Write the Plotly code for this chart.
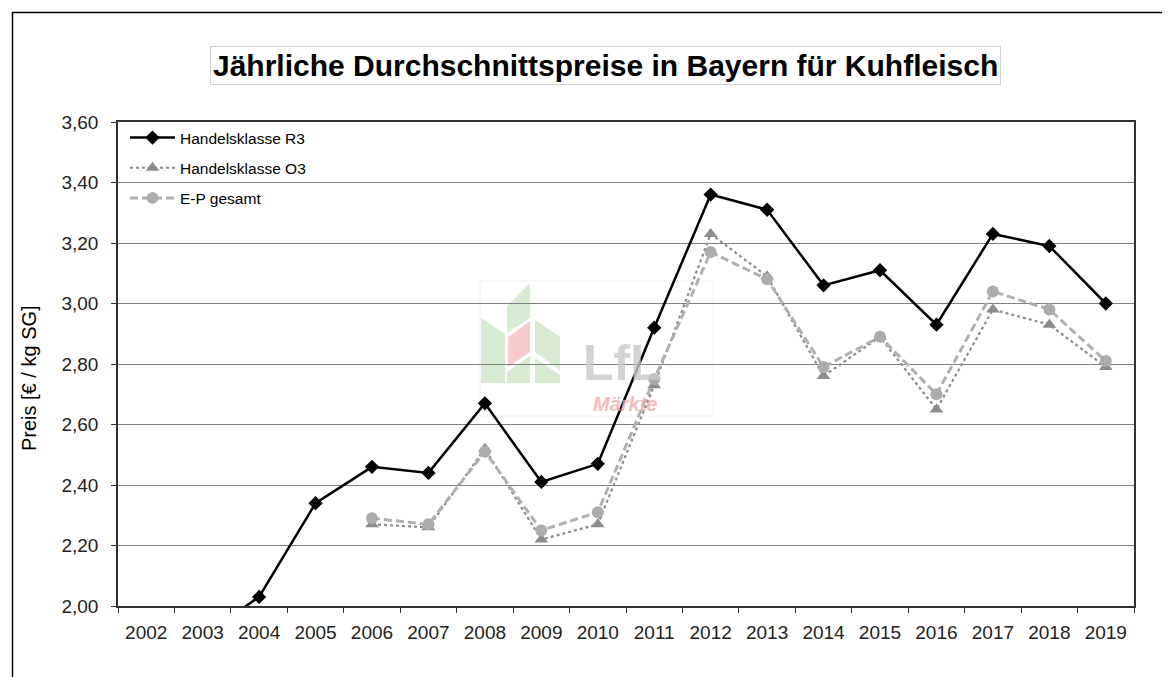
import plotly.graph_objects as go

years = [str(y) for y in range(2002, 2020)]
r3 = [None, 1.90, 2.03, 2.34, 2.46, 2.44, 2.67, 2.41, 2.47, 2.92, 3.36, 3.31, 3.06, 3.11, 2.93, 3.23, 3.19, 3.00]
o3 = [None, None, None, None, 2.27, 2.26, 2.52, 2.22, 2.27, 2.73, 3.23, 3.09, 2.76, 2.89, 2.65, 2.98, 2.93, 2.79]
ep = [None, None, None, None, 2.29, 2.27, 2.51, 2.25, 2.31, 2.75, 3.17, 3.08, 2.79, 2.89, 2.70, 3.04, 2.98, 2.81]

title = "Jährliche Durchschnittspreise in Bayern für Kuhfleisch"
ytitle = "Preis [€ / kg SG]"
names = ["Handelsklasse R3", "Handelsklasse O3", "E-P gesamt"]

W, H = 1170, 677
OFF = 8  # page body margin
# plot area in screenshot pixels
L, R, T, B = 118, 1134, 122, 606
FONT = "Liberation Sans, Arial, sans-serif"


def px(x):
    return (x - L) / (R - L)


def py(y):
    return (B - y) / (B - T)


fig = go.Figure()
fig.add_trace(go.Scatter(
    x=years, y=r3, name=names[0], mode="lines+markers", legendgroup="a",
    line=dict(color="black", width=2.5),
    marker=dict(symbol="diamond", size=11, color="black")))
fig.add_trace(go.Scatter(
    x=years, y=o3, name=names[1], mode="lines+markers", legendgroup="b",
    line=dict(color="#8c8c8c", width=2.2, dash="dot"),
    marker=dict(symbol="triangle-up", size=12, color="#8c8c8c")))
fig.add_trace(go.Scatter(
    x=years, y=ep, name=names[2], mode="lines+markers", legendgroup="c",
    line=dict(color="#b0b0b0", width=3, dash="8px,4px"),
    marker=dict(symbol="circle", size=12, color="#acacac")))

shapes = []
shapes.append(dict(type="path", xref="paper", yref="paper",
                   path=f"M {px(1190)} {py(12.5)} L {px(12.5)} {py(12.5)} L {px(12.5)} {py(700)}",
                   line=dict(color="black", width=1.5), layer="above"))
shapes.append(dict(type="rect", xref="paper", yref="paper",
                   x0=px(480), x1=px(713), y0=py(416), y1=py(281),
                   line=dict(color="#f0f0f0", width=1), layer="below"))
green = "rgba(200,228,192,0.75)"
red = "rgba(244,190,190,0.8)"
leaves = [
    ([(481, 318), (505, 334), (505, 383), (481, 383)], green),
    ([(507, 306), (530, 283), (530, 318), (507, 333)], green),
    ([(508, 337), (530, 321), (530, 352), (508, 367)], red),
    ([(507, 372), (530, 356), (530, 383), (507, 383)], green),
    ([(535, 320), (560, 337), (560, 370), (535, 352)], green),
    ([(535, 358), (560, 375), (560, 383), (535, 383)], green),
]
for pts, col in leaves:
    p = "M " + " L ".join(f"{px(a)} {py(b)}" for a, b in pts) + " Z"
    shapes.append(dict(type="path", xref="paper", yref="paper", path=p,
                       fillcolor=col, line=dict(width=0), layer="below"))

annotations = [
    dict(text="<b>" + title + "</b>", x=px(605), y=py(66), xref="paper", yref="paper",
         showarrow=False, font=dict(family=FONT, size=30, color="black"),
         bgcolor="white", bordercolor="#d0d0d0", borderwidth=1, borderpad=2,
         xanchor="center", yanchor="middle"),
    dict(text=ytitle, x=px(29), y=py(378), xref="paper", yref="paper",
         showarrow=False, textangle=-90, font=dict(family=FONT, size=20, color="black"),
         xanchor="center", yanchor="middle"),
    dict(text="<b>LfL</b>", x=px(622), y=py(363), xref="paper", yref="paper",
         showarrow=False, font=dict(family=FONT, size=50, color="rgba(200,200,200,0.8)"),
         xanchor="center", yanchor="middle"),
    dict(text="<b><i>Märkte</i></b>", x=px(625), y=py(404), xref="paper", yref="paper",
         showarrow=False, font=dict(family=FONT, size=20, color="rgba(243,170,170,0.8)"),
         xanchor="center", yanchor="middle"),
]

fig.update_layout(
    width=W, height=H,
    margin=dict(l=L - OFF, r=W - (R - OFF), t=T - OFF, b=H - (B - OFF), pad=0),
    paper_bgcolor="white", plot_bgcolor="rgba(0,0,0,0)",
    separators=",.",
    font=dict(family=FONT, color="black"),
    showlegend=True,
    legend=dict(x=px(125), y=py(121), xanchor="left", yanchor="top",
                bgcolor="rgba(0,0,0,0)", borderwidth=0,
                font=dict(family=FONT, size=15.5, color="black"),
                tracegroupgap=7, itemwidth=45),
    shapes=shapes,
    annotations=annotations,
    xaxis=dict(type="category", categoryorder="array", categoryarray=years,
               range=[-0.5, 17.5], tickson="boundaries", ticks="outside", ticklen=5,
               tickcolor="#333", showgrid=False, showline=True, linecolor="#333",
               linewidth=1.5, mirror=True, ticklabelstandoff=8,
               tickfont=dict(size=19, family=FONT, color="#222")),
    yaxis=dict(range=[2.0, 3.6], dtick=0.2, tick0=2.0, tickformat=".2f",
               ticks="outside", ticklen=5, tickcolor="#333", showgrid=True,
               gridcolor="#808080", gridwidth=1, showline=True, linecolor="#333",
               linewidth=1.5, mirror=True, zeroline=False, ticklabelstandoff=9,
               tickfont=dict(size=19, family=FONT, color="#222")),
)

fig.write_html("out.html")
